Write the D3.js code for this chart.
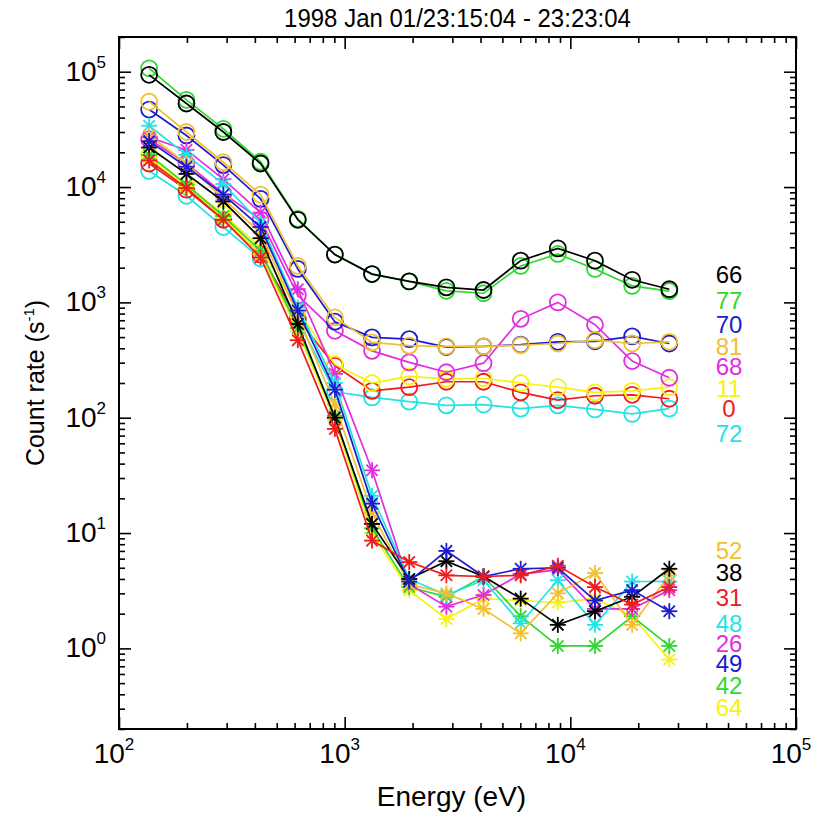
<!DOCTYPE html>
<html>
<head>
<meta charset="utf-8">
<script src="https://cdn.jsdelivr.net/npm/d3@7"></script>
<style>
  html, body { margin: 0; padding: 0; background: #fff; }
  svg text { font-family: "Liberation Sans", Arial, sans-serif; }
</style>
</head>
<body>
<svg id="chart" width="817" height="813"></svg>
<script>
// Energy channels (eV)
const energies = [136, 199, 290, 424, 620, 905, 1322, 1932, 2823, 4124, 6025, 8802, 12860, 18790, 27450];

// Count rates (s^-1), circle-marked channels
const ch66 = [94000, 53000, 30000, 16000, 5200, 2600, 1760, 1520, 1350, 1280, 2300, 2940, 2300, 1570, 1300];
const ch77 = [107000, 57000, 32000, 16600, 5300, 2600, 1760, 1520, 1260, 1200, 2070, 2630, 1950, 1390, 1250];
const ch70 = [47000, 28000, 15500, 7900, 1950, 680, 497, 480, 410, 415, 430, 455, 460, 507, 440];
const ch81 = [55000, 30000, 16400, 8600, 2070, 740, 450, 422, 415, 415, 425, 440, 470, 440, 455];
const ch68 = [26000, 16000, 8800, 5200, 1150, 567, 380, 302, 248, 297, 720, 1000, 640, 310, 222];
const ch11 = [19000, 10500, 5800, 3000, 850, 290, 200, 228, 217, 220, 200, 184, 166, 171, 184];
const ch0  = [16000, 9500, 5200, 2600, 720, 282, 171, 184, 205, 205, 166, 142, 155, 158, 146];
const ch72 = [13800, 8400, 4500, 2400, 700, 168, 150, 138, 128, 130, 120, 128, 118, 108, 120];

// Count rates (s^-1), asterisk-marked channels
const ch52 = [28000, 16000, 7900, 4000, 770, 130, 15, 3.6, 3.0, 2.2, 1.35, 3.0, 4.5, 1.6, 4.3];
const ch38 = [22000, 13000, 7500, 3600, 650, 100, 12, 4.0, 5.7, 4.2, 2.7, 1.6, 2.1, 2.8, 4.9];
const ch31 = [17000, 9800, 5200, 2450, 470, 80, 8.6, 5.6, 4.3, 4.2, 4.3, 5.2, 3.4, 2.4, 3.4];
const ch48 = [34000, 19000, 10600, 4900, 900, 200, 21, 4.0, 2.9, 3.9, 1.65, 3.9, 1.6, 3.8, 3.8];
const ch26 = [27000, 21000, 11700, 6000, 1300, 240, 35, 3.6, 2.3, 2.9, 4.4, 4.8, 2.2, 2.2, 3.2];
const ch49 = [25000, 15000, 8600, 4500, 850, 175, 18, 3.8, 7.0, 4.2, 4.9, 5.0, 2.6, 3.2, 2.1];
const ch42 = [19000, 10500, 5600, 2800, 600, 104, 11, 3.4, 2.8, 4.2, 1.9, 1.05, 1.05, 1.9, 1.05];
const ch64 = [18000, 10000, 5400, 2600, 560, 95, 10, 3.2, 1.8, 2.7, 2.6, 2.5, 2.7, 1.9, 0.8];

const titleText = "1998 Jan 01/23:15:04 - 23:23:04";
const xTickValues = [1e2, 1e3, 1e4, 1e5];
const yTickValues = [1e0, 1e1, 1e2, 1e3, 1e4, 1e5];

// Series definitions: data + drawing style
const series = [
  { name: "72", values: ch72, color: "#22e3e6", marker: "circle" },
  { name: "0",  values: ch0,  color: "#ee1c1c", marker: "circle" },
  { name: "11", values: ch11, color: "#f7f210", marker: "circle" },
  { name: "68", values: ch68, color: "#e02ee0", marker: "circle" },
  { name: "70", values: ch70, color: "#1c1cd0", marker: "circle" },
  { name: "81", values: ch81, color: "#f2c030", marker: "circle" },
  { name: "77", values: ch77, color: "#2ed82e", marker: "circle" },
  { name: "66", values: ch66, color: "#000000", marker: "circle" },
  { name: "64", values: ch64, color: "#f7f210", marker: "star" },
  { name: "42", values: ch42, color: "#2ed82e", marker: "star" },
  { name: "26", values: ch26, color: "#e02ee0", marker: "star" },
  { name: "48", values: ch48, color: "#22e3e6", marker: "star" },
  { name: "52", values: ch52, color: "#f2c030", marker: "star" },
  { name: "38", values: ch38, color: "#000000", marker: "star" },
  { name: "49", values: ch49, color: "#1c1cd0", marker: "star" },
  { name: "31", values: ch31, color: "#ee1c1c", marker: "star" }
];

// Right-hand channel key, top to bottom
const keyOrder = ["66", "77", "70", "81", "68", "11", "0", "72", "52", "38", "31", "48", "26", "49", "42", "64"];
const keyBaselines = [283, 309, 333, 355, 375, 397, 417, 442, 559, 581, 606, 632, 652, 672, 694, 716];

const margin = { left: 119, right: 796, top: 37, bottom: 729 };
const svg = d3.select("#chart");

const x = d3.scaleLog().domain([1e2, 1e5]).range([margin.left, margin.right]);
const y = d3.scaleLog().domain([0.2, 2e5]).range([margin.bottom, margin.top]);

const MAJOR = 12, MINOR = 6;

// Minor tick values (2..9 x 10^n) inside a log domain
function minorTicks(domain) {
  const out = [];
  const lo = Math.floor(Math.log10(domain[0])), hi = Math.ceil(Math.log10(domain[1]));
  for (let e = lo; e <= hi; e++) {
    for (let m = 2; m <= 9; m++) {
      const v = m * Math.pow(10, e);
      if (v >= domain[0] && v <= domain[1]) out.push(v);
    }
  }
  return out;
}

const axisG = svg.append("g").attr("class", "axes");
const stripDomain = sel => sel.selectAll("path.domain").remove();

// Horizontal axes with inward-pointing ticks
function xAxisAt(yPos, dir) {
  const major = d3.axisBottom(x).tickValues(xTickValues).tickSize(MAJOR * dir).tickFormat("");
  const minor = d3.axisBottom(x).tickValues(minorTicks(x.domain())).tickSize(MINOR * dir).tickFormat("");
  [major, minor].forEach(ax => {
    const g = axisG.append("g").attr("transform", `translate(0,${yPos})`).call(ax);
    g.call(stripDomain);
    g.selectAll("line").attr("stroke", "#000").attr("stroke-width", 1.6);
  });
}
// Vertical axes with inward-pointing ticks
function yAxisAt(xPos, dir) {
  const major = d3.axisLeft(y).tickValues(yTickValues).tickSize(MAJOR * dir).tickFormat("");
  const minor = d3.axisLeft(y).tickValues(minorTicks(y.domain())).tickSize(MINOR * dir).tickFormat("");
  [major, minor].forEach(ax => {
    const g = axisG.append("g").attr("transform", `translate(${xPos},0)`).call(ax);
    g.call(stripDomain);
    g.selectAll("line").attr("stroke", "#000").attr("stroke-width", 1.6);
  });
}
xAxisAt(margin.bottom, -1);
xAxisAt(margin.top, 1);
yAxisAt(margin.left, -1);
yAxisAt(margin.right, 1);

// Frame
axisG.append("rect")
  .attr("x", margin.left).attr("y", margin.top)
  .attr("width", margin.right - margin.left).attr("height", margin.bottom - margin.top)
  .attr("fill", "none").attr("stroke", "#000").attr("stroke-width", 2);

// Power-of-ten tick labels
const expOf = v => Math.round(Math.log10(v));
const labels = svg.append("g");
xTickValues.forEach(v => {
  const t = labels.append("text").attr("x", x(v) - 5).attr("y", 763).attr("text-anchor", "middle")
    .attr("font-size", 28).attr("fill", "#000");
  t.append("tspan").text("10");
  t.append("tspan").attr("dy", -13).attr("font-size", 17).text(expOf(v));
});
yTickValues.forEach(v => {
  const t = labels.append("text").attr("x", 106).attr("y", y(v) + 9).attr("text-anchor", "end")
    .attr("font-size", 28).attr("fill", "#000");
  t.append("tspan").text("10");
  t.append("tspan").attr("dy", -13).attr("font-size", 17).text(expOf(v));
});

// Titles
svg.append("text")
  .attr("transform", `translate(${(margin.left + margin.right) / 2},27) scale(1,1.1)`)
  .attr("text-anchor", "middle").attr("font-size", 24).text(titleText);
svg.append("text").attr("x", (margin.left + margin.right) / 2 - 6).attr("y", 806)
  .attr("text-anchor", "middle").attr("font-size", 28).text("Energy (eV)");
const yt = svg.append("text").attr("transform", `translate(44,${(margin.top + margin.bottom) / 2}) rotate(-90)`)
  .attr("text-anchor", "middle").attr("font-size", 25);
yt.append("tspan").text("Count rate (s");
yt.append("tspan").attr("dy", -10).attr("font-size", 15).text("-1");
yt.append("tspan").attr("dy", 10).text(")");

// Data lines and markers
const line = d3.line().x((d, i) => x(energies[i])).y(d => y(d));
const plot = svg.append("g");

function drawStar(g, cx, cy, r, color) {
  [0, 45, 90, 135].forEach(a => {
    const rad = a * Math.PI / 180;
    g.append("line")
      .attr("x1", cx - r * Math.cos(rad)).attr("y1", cy - r * Math.sin(rad))
      .attr("x2", cx + r * Math.cos(rad)).attr("y2", cy + r * Math.sin(rad))
      .attr("stroke", color).attr("stroke-width", 1.8);
  });
}

series.forEach(s => {
  const g = plot.append("g");
  g.append("path").datum(s.values).attr("d", line)
    .attr("fill", "none").attr("stroke", s.color).attr("stroke-width", 1.7);
  s.values.forEach((v, i) => {
    const cx = x(energies[i]), cy = y(v);
    if (s.marker === "circle") {
      g.append("circle").attr("cx", cx).attr("cy", cy).attr("r", 8)
        .attr("fill", "none").attr("stroke", s.color).attr("stroke-width", 1.8);
    } else {
      drawStar(g, cx, cy, 8, s.color);
    }
  });
});

// Channel key
const colorOf = Object.fromEntries(series.map(s => [s.name, s.color]));
keyOrder.forEach((name, i) => {
  svg.append("text").attr("x", 729).attr("y", keyBaselines[i]).attr("text-anchor", "middle")
    .attr("font-size", 24).attr("fill", colorOf[name]).text(name);
});
</script>
</body>
</html>
